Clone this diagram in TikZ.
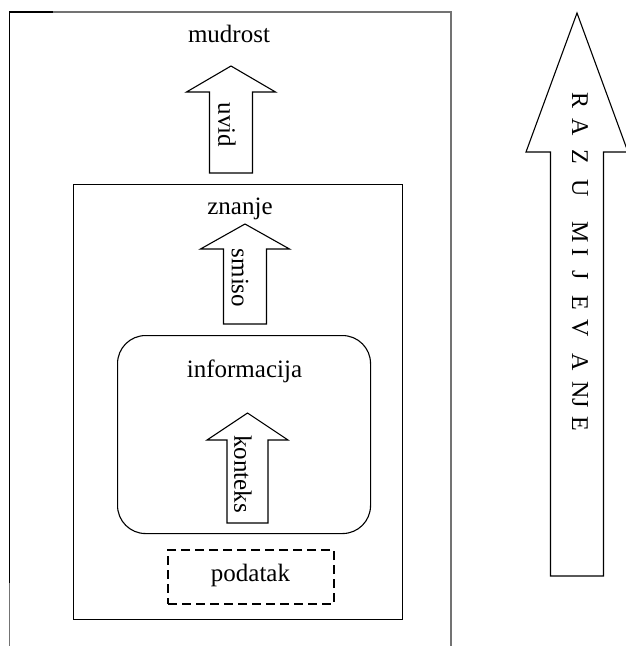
\documentclass[tikz,border=0pt]{standalone}
\usepackage{fontspec}
\setmainfont{Liberation Serif}
\begin{document}
\begin{tikzpicture}[x=1pt,y=-1pt,
  box/.style={draw=black,line width=1.1pt,rectangle,inner sep=0pt,anchor=north west},
  roundbox/.style={box,rounded corners=28pt},
  dashbox/.style={box,line width=2.4pt,dash pattern=on 9pt off 5pt},
  blockarr/.style={draw=black,line width=1.1pt,fill=white,line join=miter},
  lbl/.style={font=\fontsize{25}{30}\selectfont,inner sep=0pt},
  vlbl/.style={lbl,rotate=-90,anchor=center},
  biglbl/.style={font=\fontsize{24}{28}\selectfont,inner sep=0pt,rotate=-90,anchor=center},
  outer/.style={draw=black!55,line width=1.3pt}
]
\useasboundingbox (0,0) rectangle (625,646);
% outer frame (open at bottom)
\coordinate (obl) at (9.5,646);
\coordinate (otl) at (9.5,12);
\coordinate (otr) at (451,12);
\coordinate (obr) at (451,646);
\draw[outer] (obl) -- (otl) -- (otr) -- (obr);
\draw[draw=black,line width=1.2pt] (9.5,583) -- (otl) -- (53,12);

% boxes
\node[box,minimum width=329pt,minimum height=435pt] (znbox) at (73,184) {};
\node[roundbox,minimum width=253pt,minimum height=198pt] (infbox) at (117,335) {};
\node[dashbox,minimum width=166pt,minimum height=54pt] (podbox) at (167,549) {};

\newcommand\blkarrow[6]{% cx, tip, base, headhalf, shafthalf, bottom
  \draw[blockarr] (#1,#2) -- ({#1+#4},#3) -- ({#1+#5},#3) -- ({#1+#5},#6)
    -- ({#1-#5},#6) -- ({#1-#5},#3) -- ({#1-#4},#3) -- cycle;}

% arrows
\blkarrow{231}{66}{92}{44.5}{21.5}{173}
\blkarrow{245}{224}{249}{44.5}{21.5}{324}
\blkarrow{247.5}{413}{440}{40.5}{20.5}{523}
\blkarrow{577}{13}{152}{51}{26.5}{576}

% texts
\node[lbl,anchor=base] (mudrost) at (229,42) {mudrost};
\node[lbl,anchor=base] (znanje) at (240,214) {znanje};
\node[lbl,anchor=base] (informacija) at (244.5,377) {informacija};
\node[lbl,anchor=base] (podatak) at (250.5,581) {podatak};

\node[vlbl] (uvid) at (227,125) {uvid};
\node[vlbl] (smiso) at (240,278) {smiso};
\node[vlbl] (konteks) at (243,474) {konteks};

% RAZUMIJEVANJE
\foreach \l/\yy [count=\i] in {R/100,A/127,Z/157,U/188,M/232,I/252,J/275,E/303,V/328,A/362,NJ/395,E/424}
  \node[biglbl] (raz\i) at (580,\yy) {\l};
\end{tikzpicture}
\end{document}
